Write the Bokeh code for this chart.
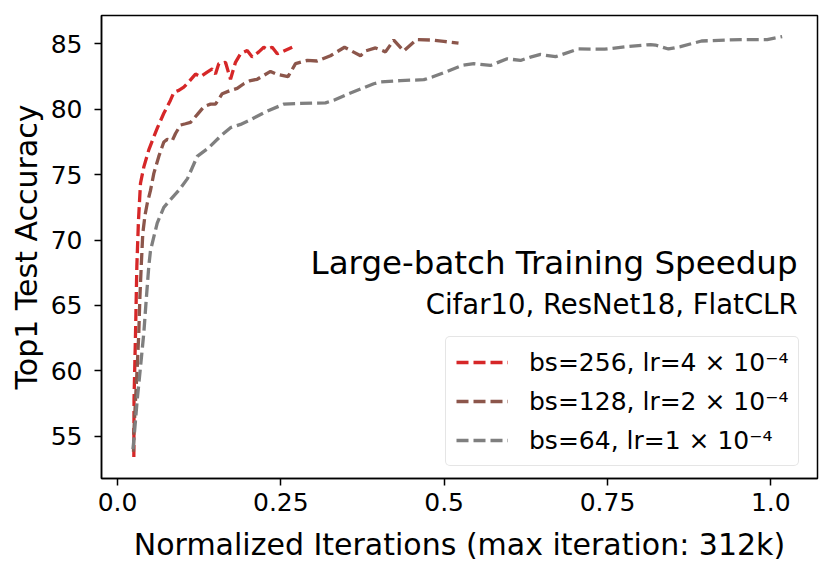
from bokeh.plotting import figure
from bokeh.models import Range1d, FixedTicker, Label, Legend
from bokeh.embed import file_html
from bokeh.resources import INLINE

# ---------------- data ----------------
red_x = [0.025, 0.0253, 0.0276, 0.0296, 0.0321, 0.0352, 0.0403, 0.0479, 0.0556, 0.0612,
         0.0709, 0.0811, 0.0862, 0.0938, 0.1015, 0.1091, 0.1194, 0.1270, 0.1373, 0.1450,
         0.1500, 0.1551, 0.1653, 0.1730, 0.1806, 0.1883, 0.1985, 0.2062, 0.2163, 0.2239,
         0.2291, 0.2368, 0.2445, 0.2521, 0.2674]
red_y = [53.4, 57.8, 62.9, 68.0, 71.5, 74.35, 75.6, 76.9, 77.9, 78.6,
         79.7, 80.7, 81.3, 81.45, 81.7, 82.1, 82.7, 82.5, 82.85, 83.1,
         82.7, 83.5, 83.6, 82.3, 83.6, 84.25, 84.5, 84.0, 84.4, 84.75,
         84.6, 84.75, 84.25, 84.4, 84.75]

brown_x = [0.0245, 0.0250, 0.0276, 0.0302, 0.0326, 0.0341, 0.0363, 0.0387, 0.0421, 0.0455,
           0.0505, 0.0556, 0.0632, 0.0709, 0.0761, 0.0837, 0.0888, 0.0964, 0.1041, 0.1117,
           0.1220, 0.1321, 0.1424, 0.1500, 0.1603, 0.1730, 0.1832, 0.1933, 0.2036, 0.2138,
           0.2342, 0.2445, 0.2610, 0.2725, 0.2904, 0.3057, 0.3260, 0.3475, 0.3720, 0.3796,
           0.3949, 0.4102, 0.4229, 0.4382, 0.4577, 0.4822, 0.4995, 0.5220]
brown_y = [53.8, 55.25, 57.8, 60.3, 62.9, 65.4, 68.0, 70.5, 71.9, 72.8,
           73.8, 75.1, 76.4, 77.5, 77.7, 77.6, 78.15, 78.8, 78.9, 79.0,
           79.6, 80.2, 80.4, 80.4, 81.2, 81.45, 81.6, 81.96, 82.2, 82.3,
           82.9, 82.67, 82.5, 83.5, 83.74, 83.7, 84.1, 84.75, 84.1, 84.47,
           84.7, 84.4, 85.3, 84.47, 85.33, 85.3, 85.2, 85.06]

gray_x = [0.0237, 0.0250, 0.0302, 0.0352, 0.0403, 0.0439, 0.0479, 0.0505, 0.0608, 0.0709,
          0.0811, 0.0938, 0.1071, 0.1220, 0.1393, 0.1577, 0.1730, 0.1883, 0.2036, 0.2265,
          0.2546, 0.2801, 0.3184, 0.3311, 0.3516, 0.3923, 0.4026, 0.4332, 0.4689, 0.4817,
          0.5047, 0.5276, 0.5454, 0.5709, 0.5965, 0.6169, 0.6322, 0.6475, 0.6705, 0.7057,
          0.7455, 0.7761, 0.8159, 0.8235, 0.8434, 0.8618, 0.8940, 0.9537, 0.9945, 1.0174]
gray_y = [54.0, 54.7, 57.8, 60.3, 62.9, 65.4, 68.0, 69.2, 71.3, 72.5,
          73.1, 73.8, 74.7, 76.4, 77.05, 77.95, 78.6, 78.85, 79.2, 79.8,
          80.4, 80.45, 80.5, 80.7, 81.15, 81.96, 82.1, 82.2, 82.27, 82.47,
          82.9, 83.36, 83.5, 83.36, 83.87, 83.74, 84.0, 84.2, 84.03, 84.62,
          84.6, 84.78, 84.96, 84.92, 84.62, 84.8, 85.23, 85.34, 85.34, 85.57]

series_labels = ["bs=256, lr=4 × 10⁻⁴", "bs=128, lr=2 × 10⁻⁴", "bs=64, lr=1 × 10⁻⁴"]
series_colors = ["#d62728", "#8c564b", "#7f7f7f"]

x_ticks = [0.0, 0.25, 0.5, 0.75, 1.0]
x_tick_labels = ["0.0", "0.25", "0.5", "0.75", "1.0"]
y_ticks = [55, 60, 65, 70, 75, 80, 85]

title_text = "Large-batch Training Speedup"
subtitle_text = "Cifar10, ResNet18, FlatCLR"
x_label = "Normalized Iterations (max iteration: 312k)"
y_label = "Top1 Test Accuracy"

FONT = "DejaVu Sans"

# ---------------- figure ----------------
p = figure(width=823, height=564, output_backend="svg", toolbar_location=None,
           x_range=Range1d(-0.0245, 1.0715), y_range=Range1d(51.76, 87.18),
           min_border_left=101, min_border_right=6, min_border_top=15, min_border_bottom=85)
p.background_fill_color = "white"
p.border_fill_color = "white"
p.outline_line_color = "black"
p.outline_line_width = 1.5
p.xgrid.visible = False
p.ygrid.visible = False

renderers = []
for xs, ys, col in [(red_x, red_y, series_colors[0]),
                    (brown_x, brown_y, series_colors[1]),
                    (gray_x, gray_y, series_colors[2])]:
    r = p.line(xs, ys, line_color=col, line_width=3.3, line_dash="12 5")
    renderers.append(r)

for ax in (p.xaxis[0], p.yaxis[0]):
    ax.axis_line_color = "black"
    ax.axis_line_width = 1.5
    ax.major_tick_line_color = "black"
    ax.major_tick_line_width = 1.5
    ax.major_tick_out = 7
    ax.major_tick_in = 0
    ax.minor_tick_line_color = None
    ax.major_label_text_font = FONT
    ax.major_label_text_font_size = "25px"
    ax.major_label_text_color = "black"
    ax.axis_label_text_font = FONT
    ax.axis_label_text_font_size = "30px"
    ax.axis_label_text_font_style = "normal"
    ax.axis_label_text_color = "black"

p.xaxis[0].ticker = FixedTicker(ticks=x_ticks)
p.xaxis[0].major_label_overrides = {t: l for t, l in zip(x_ticks, x_tick_labels)}
p.xaxis[0].axis_label = x_label
p.xaxis[0].major_label_standoff = 7
p.xaxis[0].axis_label_standoff = 13

p.yaxis[0].ticker = FixedTicker(ticks=y_ticks)
p.yaxis[0].axis_label = y_label
p.yaxis[0].major_label_standoff = 12
p.yaxis[0].axis_label_standoff = 4

# annotation texts
p.add_layout(Label(x=1.0409, y=68.25, text=title_text, text_align="right",
                   text_baseline="alphabetic", text_font=FONT, text_font_size="32.5px",
                   text_color="black"))
p.add_layout(Label(x=1.0409, y=65.08, text=subtitle_text, text_align="right",
                   text_baseline="alphabetic", text_font=FONT, text_font_size="27.5px",
                   text_color="black"))

legend = Legend(items=[(lab, [r]) for lab, r in zip(series_labels, renderers)],
                location=(344, 12))
legend.label_text_font = FONT
legend.label_text_font_size = "25px"
legend.label_text_color = "black"
legend.glyph_width = 52
legend.glyph_height = 30
legend.label_height = 30
legend.label_standoff = 21
legend.spacing = 9
legend.padding = 10
legend.margin = 0
legend.border_line_color = "#cccccc"
legend.border_line_width = 1.5
legend.background_fill_color = "white"
legend.background_fill_alpha = 0.8
if "border_radius" in Legend.properties():
    legend.border_radius = 5
p.add_layout(legend)

open("out.html", "w").write(file_html(p, INLINE))
